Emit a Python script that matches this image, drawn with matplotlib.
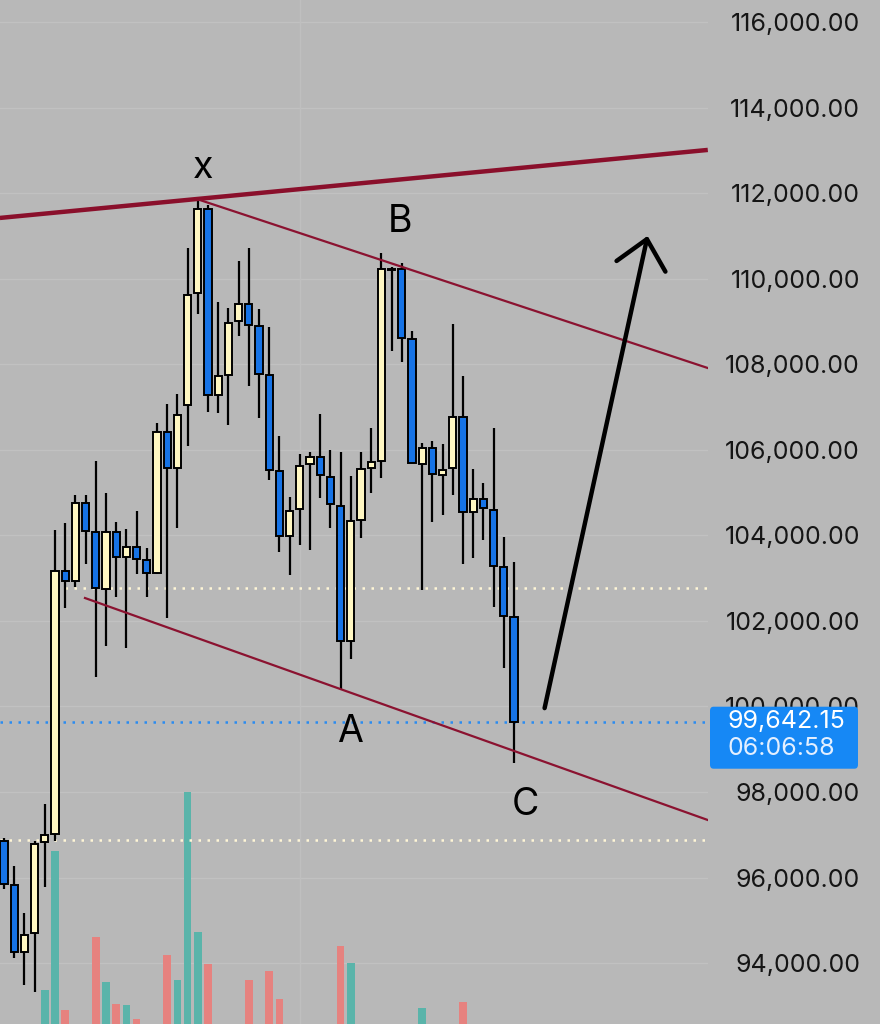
import matplotlib
matplotlib.use('Agg')
import matplotlib.pyplot as plt
from matplotlib.patches import FancyBboxPatch
from matplotlib.ticker import FuncFormatter

plt.rcParams['font.family'] = ['Inter', 'DejaVu Sans']

# candles (oldest -> newest)
opens = [96865, 95817, 94249, 94691, 96825, 97026, 103173, 102941, 104751, 104066,
         102756, 104066, 103500, 103720, 103423, 103126, 106408, 105567, 107046, 109658,
         111629, 107280, 107748, 108999, 109401, 108898, 107748, 105510, 103984, 104608,
         105660, 105838, 105370, 104692, 101536, 104358, 105567, 105744, 110200, 110219,
         108590, 105667, 106034, 105410, 105567, 106773, 104552, 104842, 104592, 103266,
         102083]
closes = [95857, 94249, 94667, 96783, 97001, 103177, 102941, 104751, 104096, 102763,
          104066, 103500, 103720, 103453, 103126, 106404, 105567, 106813, 109618, 111629,
          107280, 107717, 108970, 109401, 108924, 107766, 105527, 103984, 104575, 105627,
          105824, 105403, 104725, 101536, 104334, 105550, 105721, 110219, 110230, 108620,
          105683, 106034, 105429, 105527, 106773, 104552, 104842, 104631, 103282, 102113,
          99642.15]
highs = [96923, 96278, 95175, 96842, 97709, 104124, 104299, 104938, 104931, 105737,
         104982, 104318, 104140, 104568, 103696, 106633, 107070, 107297, 110710, 111921,
         111722, 109454, 109307, 110406, 110710, 109284, 108877, 106322, 104903, 105894,
         105955, 106836, 105994, 105941, 105394, 105955, 106502, 110593, 110280, 110373,
         108784, 106165, 106200, 106128, 108940, 107724, 105543, 105230, 106502, 103953,
         103369]
lows = [95738, 94127, 93484, 93323, 95778, 96865, 102289, 102791, 103329, 100676,
        101412, 102565, 101372, 103091, 102565, 103095, 102067, 104171, 106088, 109169,
        106883, 106852, 106586, 108664, 107491, 106750, 105293, 103603, 103072, 103773,
        103657, 104879, 104164, 100383, 101108, 103930, 104982, 105333, 108316, 108045,
        105680, 102721, 104318, 104475, 104942, 103329, 103476, 103890, 102331, 100891,
        98684]
volumes = [0, 0, 0, 0, 34, 173, 14, 0, 0, 87, 42, 20, 19, 5, 0, 0, 69, 44, 232, 92,
           60, 0, 0, 0, 44, 0, 53, 25, 0, 0, 0, 0, 0, 78, 61, 0, 0, 0, 0, 0,
           0, 16, 0, 0, 0, 22, 0, 0, 0, 0, 0]

price_ticks = list(range(94000, 116001, 2000))
countdown = '06:06:58'

# drawn lines: (x0, x1), (y0, y1)
top_line = ([-0.4, 69.0], [111420, 113010])
upper_channel = ([19.2, 69.0], [111839, 107911])
lower_channel = ([7.94, 69.0], [102534, 97344])
arrow_from = (53.0, 99960)
arrow_to = (63.1, 111000)
levels = [(6, 102760), (-0.4, 96884)]   # dotted levels (start index, price)

# wave labels: text, candle index, use high/low, pixel offset
wave_labels = [('x', 19, 'high', (5, 19)),
               ('B', 38, 'high', (8, 35)),
               ('A', 33, 'low', (9, -52)),
               ('C', 50, 'low', (11, -52))]

bg = '#b8b8b8'
bull = '#fff7c2'
bear = '#1673e6'
red = '#8b1230'

W, H = 880, 1024
pane_w = 708
ylo, yhi = 92575, 116515
fig = plt.figure(figsize=(W / 100, H / 100), dpi=100, facecolor=bg)
vax = fig.add_axes([0, 0, pane_w / W, 1])
ax = fig.add_axes([0, 0, pane_w / W, 1], sharex=vax)
ax.set_zorder(vax.get_zorder() + 1)
ax.patch.set_visible(False)
vax.set_facecolor(bg)

x = list(range(len(opens)))
ax.set_xlim(-0.392, 69.02)
ax.set_ylim(ylo, yhi)
vax.set_ylim(0, 1024)

# grid (drawn on the back axes so it sits behind the volume bars)
for p in price_ticks:
    vax.axhline((p - ylo) / (yhi - ylo) * 1024, color='#c1c1c1', lw=1, zorder=0)
vax.axvline(29, color='#bfbfbf', lw=1, zorder=0)

# volume
vcol = ['#5ab4aa' if c >= o else '#e6827f' for o, c in zip(opens, closes)]
vax.bar(x, volumes, width=0.76, color=vcol, zorder=1)

# wicks and bodies
ax.vlines(x, lows, highs, color='black', lw=1.6, zorder=2)
bottoms = [min(o, c) for o, c in zip(opens, closes)]
heights = [max(abs(c - o), 25) for o, c in zip(opens, closes)]
cols = [bull if c >= o else bear for o, c in zip(opens, closes)]
ax.bar(x, heights, bottom=bottoms, width=0.72, color=cols, edgecolor='black',
       linewidth=1.4, zorder=3)

# level lines
for start, lvl in levels:
    ax.plot([start, 69.02], [lvl, lvl], color='#fff6d6', lw=1.8,
            linestyle=(0, (1, 2.6)), zorder=1.5)
ax.axhline(closes[-1], color='#2a8cf0', lw=1.8, linestyle=(0, (1, 2.6)), zorder=1.5)

# channel lines
ax.plot(*top_line, color='#8a0f2b', lw=3.2, solid_capstyle='butt', zorder=4)
ax.plot(*upper_channel, color=red, lw=1.6, zorder=4)
ax.plot(*lower_channel, color=red, lw=1.6, zorder=4)

ax.annotate('', xy=arrow_to, xytext=arrow_from,
            arrowprops=dict(arrowstyle='->,head_length=0.5,head_width=0.45',
                            lw=3.2, color='black', mutation_scale=40,
                            shrinkA=0, shrinkB=0), zorder=5)

for txt, i, side, off in wave_labels:
    yv = highs[i] if side == 'high' else lows[i]
    ax.annotate(txt, xy=(i, yv), xytext=off, textcoords='offset pixels',
                ha='center', va='baseline', fontsize=27, color='black', zorder=6)

# price scale
ax.yaxis.tick_right()
ax.set_yticks(price_ticks)
ax.yaxis.set_major_formatter(FuncFormatter(lambda v, p: f'{v:,.2f}'))
ax.tick_params(axis='y', length=0, pad=(860 - pane_w) * 0.72, labelsize=18,
               labelcolor='#151515')
plt.setp(ax.get_yticklabels(), ha='right')
ax.set_xticks([])
vax.set_yticks([])
for a in (ax, vax):
    for s in a.spines.values():
        s.set_visible(False)
vax.tick_params(axis='x', length=0, labelbottom=False)

# last price box (covers the lower half of the 100,000 label, as in the app)
ylast = ax.transData.transform((0, closes[-1]))[1]
box = FancyBboxPatch((710 / W, (ylast - 47) / H), 148 / W, 62 / H,
                     boxstyle='round,pad=0,rounding_size=0.004',
                     transform=fig.transFigure, fc='#1688f5', ec='none', zorder=10)
fig.add_artist(box)
fig.text(727 / W, ylast / H, f'{closes[-1]:,.2f}', color='white', fontsize=18,
         va='center', ha='left', zorder=11)
fig.text(727 / W, (ylast - 27) / H, countdown, color='#e3efff', fontsize=18,
         va='center', ha='left', zorder=11)

fig.savefig('out.png', dpi=100, facecolor=bg)
